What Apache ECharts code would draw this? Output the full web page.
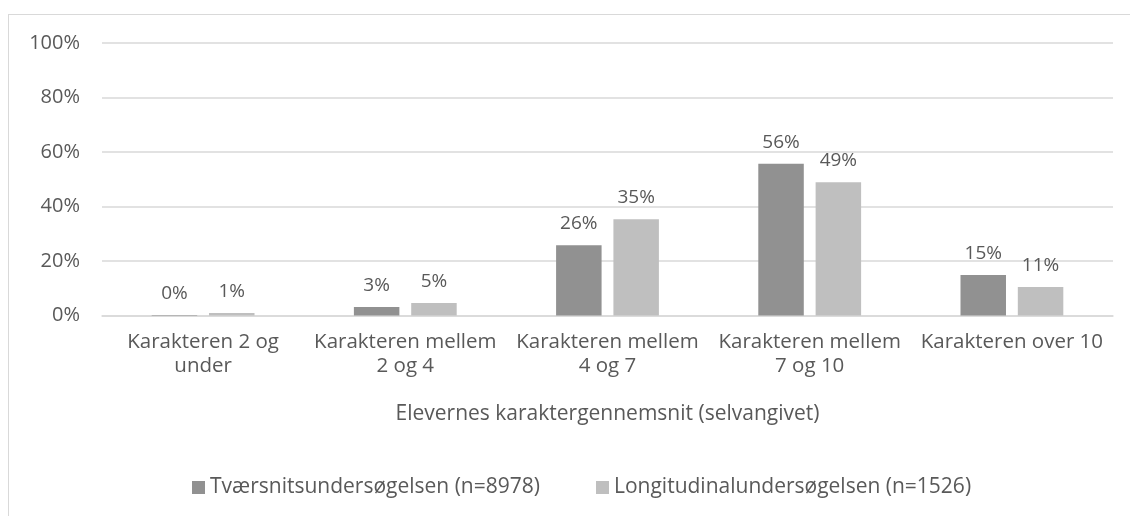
<!DOCTYPE html>
<html>
<head>
<meta charset="utf-8">
<script src="https://cdn.jsdelivr.net/npm/echarts@6/dist/echarts.min.js"></script>
<style>
  html, body { margin: 0; padding: 0; background: #fff; }
  #frame { position: absolute; left: 8px; top: 14px; width: 1200px; height: 600px;
           border-left: 1px solid #d9d9d9; border-top: 1px solid #d9d9d9; }
  #chart { position: absolute; left: 0; top: 0; width: 1130px; height: 516px; }
</style>
</head>
<body>
<div id="frame"></div>
<div id="chart"></div>
<script>
// data
const categories = [
  'Karakteren 2 og\nunder',
  'Karakteren mellem\n2 og 4',
  'Karakteren mellem\n4 og 7',
  'Karakteren mellem\n7 og 10',
  'Karakteren over 10'
]
const tvaersnit = [0.2, 3.1, 25.8, 55.7, 14.9]
const longitudinal = [0.9, 4.6, 35.3, 48.9, 10.5]
const yTicks = [0, 20, 40, 60, 80, 100]

const textColor = '#595959'
const font = 'Open Sans'

const chart = echarts.init(document.getElementById('chart'))
chart.setOption({
  textStyle: { fontFamily: font, color: textColor },
  animation: false,
  grid: {
    left: 102,
    right: 17,
    top: 43,
    bottom: 200.5
  },
  legend: {
    bottom: 13,
    left: 187,
    itemWidth: 13,
    itemHeight: 13,
    itemGap: 56,
    icon: 'rect',
    textStyle: { fontFamily: font, fontSize: 21, color: textColor },
    data: ['Tværsnitsundersøgelsen (n=8978)', 'Longitudinalundersøgelsen (n=1526)']
  },
  xAxis: {
    type: 'category',
    data: categories,
    name: 'Elevernes karaktergennemsnit (selvangivet)',
    nameLocation: 'middle',
    nameGap: 88,
    nameTextStyle: { fontFamily: font, fontSize: 21, color: textColor },
    axisLine: { lineStyle: { color: '#d9d9d9', width: 1.5 } },
    axisTick: { show: false },
    axisLabel: {
      interval: 0,
      fontFamily: font,
      fontSize: 20.5,
      lineHeight: 24,
      margin: 15,
      color: textColor
    }
  },
  yAxis: {
    type: 'value',
    min: yTicks[0],
    max: yTicks[yTicks.length - 1],
    interval: 20,
    axisLine: { show: false },
    axisTick: { show: false },
    splitLine: { lineStyle: { color: '#d9d9d9', width: 1.5 } },
    axisLabel: {
      fontFamily: font,
      fontSize: 20,
      margin: 22,
      color: textColor,
      formatter: v => v + '%'
    }
  },
  series: [
    {
      name: 'Tværsnitsundersøgelsen (n=8978)',
      type: 'bar',
      data: tvaersnit,
      barWidth: '22.5%',
      barGap: '26%',
      itemStyle: { color: '#919191' },
      label: {
        show: true,
        position: 'top',
        distance: 12,
        fontFamily: font,
        fontSize: 19,
        color: textColor,
        formatter: p => Math.round(p.value) + '%'
      }
    },
    {
      name: 'Longitudinalundersøgelsen (n=1526)',
      type: 'bar',
      data: longitudinal,
      barWidth: '22.5%',
      itemStyle: { color: '#bfbfbf' },
      label: {
        show: true,
        position: 'top',
        distance: 12,
        fontFamily: font,
        fontSize: 19,
        color: textColor,
        formatter: p => Math.round(p.value) + '%'
      }
    }
  ]
})
</script>
</body>
</html>
